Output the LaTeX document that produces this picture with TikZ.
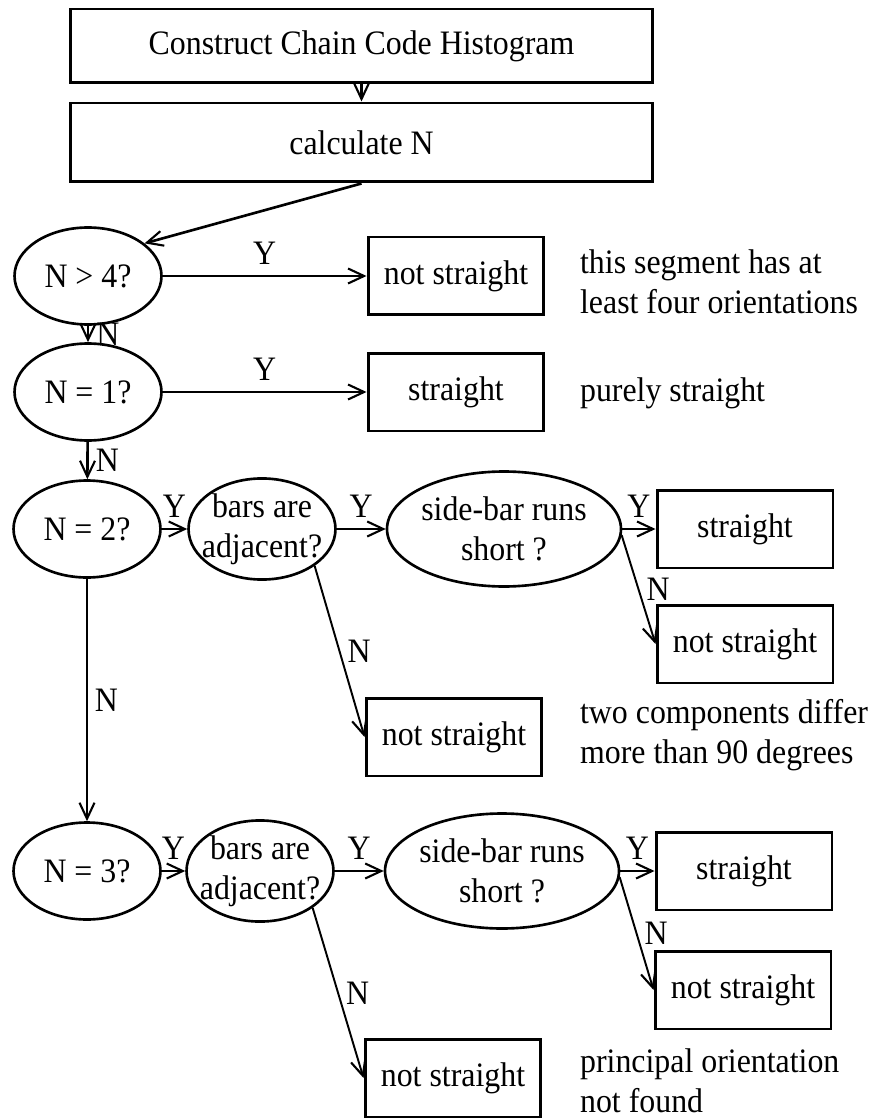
\documentclass[tikz,border=0pt]{standalone}
\usepackage{fontspec}
\setmainfont{Liberation Serif}[FakeStretch=0.93]
\usetikzlibrary{shapes.geometric, arrows.meta}

\begin{document}
\begin{tikzpicture}[
  x=0.02cm, y=-0.02cm,
  font=\fontsize{19.5}{23}\selectfont,
  box/.style={draw, rectangle, line width=1.7pt, minimum width=3.52cm, minimum height=1.56cm, align=center, inner sep=0pt},
  wide/.style={box, minimum width=11.66cm},
  test/.style={draw, ellipse, line width=1.5pt, minimum width=2.94cm, minimum height=1.94cm, inner xsep=-5pt, inner ysep=0pt, align=center},
  oval/.style={test, inner xsep=0pt, minimum width=4.64cm, minimum height=2.3cm},
  flow/.style={-{Straight Barb[length=3.2mm, width=3mm, line width=1.2pt]}, line width=1.5pt},
  thin/.style={flow, line width=1.1pt},
  yes/.style={above=4pt, inner sep=2pt},
  no/.style={right=2pt, inner sep=2pt},
  note/.style={anchor=west, align=left, inner sep=1pt}
]
\useasboundingbox (0,0) rectangle (880,1118);

\node[wide, minimum height=1.48cm] (hist) at (361.5,46) {Construct Chain Code Histogram};
\node[wide, minimum height=1.58cm] (calc) at (361.5,142.5) {calculate N};

% first two tests
\node[test] (gt4) at (88,276) {N > 4?};
\node[box] (ns1) at (456,276) {not straight};
\node[note] (why1) at (578,282) {this segment has at\\least four orientations};

\node[test] (eq1) at (88,392) {N = 1?};
\node[box] (st1) at (456,392) {straight};
\node[note] (why2) at (578,393) {purely straight};

% N = 2
\node[test] (eq2) at (87,529) {N = 2?};
\node[test] (adj2) at (262,529) {bars are\\adjacent?};
\node[oval] (side2) at (504,529) {side-bar runs\\short ?};
\node[box] (st2) at (745,529) {straight};
\node[box] (ns2) at (745,644) {not straight};
\node[box] (ns2b) at (454,737) {not straight};
\node[note] (why3) at (578,735) {two components differ\\more than 90 degrees};

% N = 3
\node[test] (eq3) at (87,871) {N = 3?};
\node[test] (adj3) at (260,871) {bars are\\adjacent?};
\node[oval] (side3) at (502,871) {side-bar runs\\short ?};
\node[box] (st3) at (744,871) {straight};
\node[box] (ns3) at (743,990) {not straight};
\node[box] (ns3b) at (453,1078) {not straight};
\node[note] (why4) at (578,1081) {principal orientation\\not found};

\draw[flow] (hist) -- (calc);
\draw[flow] (calc.south) -- (gt4.30);
\draw[flow] (gt4) -- node[yes] {Y} (ns1);
\draw[flow] (gt4) -- node[no] {N} (eq1);
\draw[flow] (eq1) -- node[yes] {Y} (st1);
\draw[flow] (eq1) -- node[no] {N} (eq2);

\draw[flow] (eq2) -- node[yes] {Y} (adj2);
\draw[flow] (adj2) -- node[yes] {Y} (side2);
\draw[flow] (side2) -- node[yes] {Y} (st2);
\draw[thin] (side2.-3) -- node[no] {N} (ns2.west);
\draw[thin] (adj2.-35) -- node[no] {N} (ns2b.west);
\draw[thin] (eq2) -- node[no] {N} (eq3);

\draw[flow] (eq3) -- node[yes] {Y} (adj3);
\draw[flow] (adj3) -- node[yes] {Y} (side3);
\draw[flow] (side3) -- node[yes] {Y} (st3);
\draw[thin] (side3.-3) -- node[no] {N} (ns3.west);
\draw[thin] (adj3.-35) -- node[no] {N} (ns3b.west);

\end{tikzpicture}
\end{document}
